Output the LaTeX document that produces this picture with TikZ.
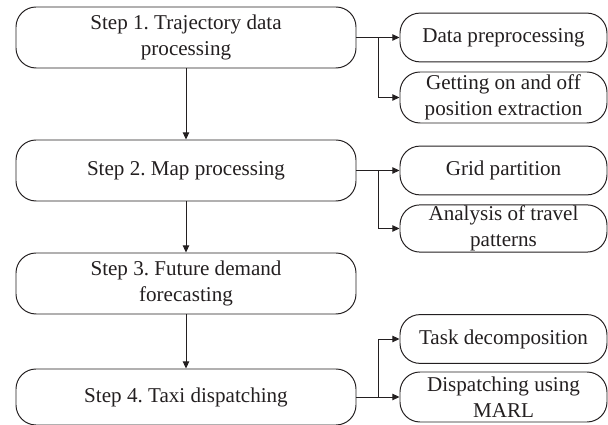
\documentclass[tikz,border=0pt]{standalone}
\usepackage{fontspec}
\setmainfont{Liberation Serif}
\usetikzlibrary{arrows.meta}
\usetikzlibrary{positioning}
\definecolor{ink}{RGB}{35,31,32}
\frenchspacing
\tikzset{
	stepbox/.style={draw=ink, line width=0.7pt, rounded corners=0.5cm, minimum width=8.5cm, minimum height=1.525cm, align=center, text=ink, inner sep=0pt},
	subbox/.style={draw=ink, line width=0.7pt, rounded corners=0.5cm, minimum width=5.175cm, minimum height=1.22cm, align=center, text=ink, inner sep=0pt},
	arr/.style={draw=ink, line width=0.7pt, -{Triangle[length=5pt,width=4.5pt]}}
}

\begin{document}
\begin{tikzpicture}[font=\fontsize{15}{18.5}\selectfont]
	\useasboundingbox (0,0) rectangle (15.2,10.625);
	% main steps
	\node[stepbox] (s1) at (4.65,9.6875){Step 1. Trajectory data\\processing};%1
	\node[stepbox] (s2) at (4.65,6.3625){Step 2. Map processing};%2
	\node[stepbox] (s3) at (4.65,3.5375){Step 3. Future demand\\forecasting};%3
	\node[stepbox, minimum height=1.4cm] (s4) at (4.65,0.7){Step 4. Taxi dispatching};%4
	% sub tasks
	\node[subbox] (r11) at (12.5875,9.6875){Data preprocessing};
	\node[subbox, minimum height=1.275cm] (r12) at (12.5875,8.1875){Getting on and off\\position extraction};
	\node[subbox] (r21) at (12.5875,6.3625){Grid partition};
	\node[subbox, minimum height=1.18cm] (r22) at (12.5875,4.9125){Analysis of travel\\patterns};
	\node[subbox] (r41) at (12.5875,2.15){Task decomposition};
	\node[subbox, minimum height=1.25cm] (r42) at (12.5875,0.7){Dispatching using\\MARL};
	% junctions
	\coordinate (j1) at (9.45,9.6875);
	\coordinate (j2) at (9.45,6.3625);
	\coordinate (j4) at (9.45,0.7);
	\draw[arr] (s1) -- (s2);
	\draw[arr] (s2) -- (s3);
	\draw[arr] (s3) -- (s4);
	\draw[arr] (s1) -- (r11);
	\draw[arr] (j1) |- (r12);
	\draw[arr] (s2) -- (r21);
	\draw[arr] (j2) |- (r22);
	\draw[arr] (s4) -- (r42);
	\draw[arr] (j4) |- (r41);
\end{tikzpicture}
\end{document}
